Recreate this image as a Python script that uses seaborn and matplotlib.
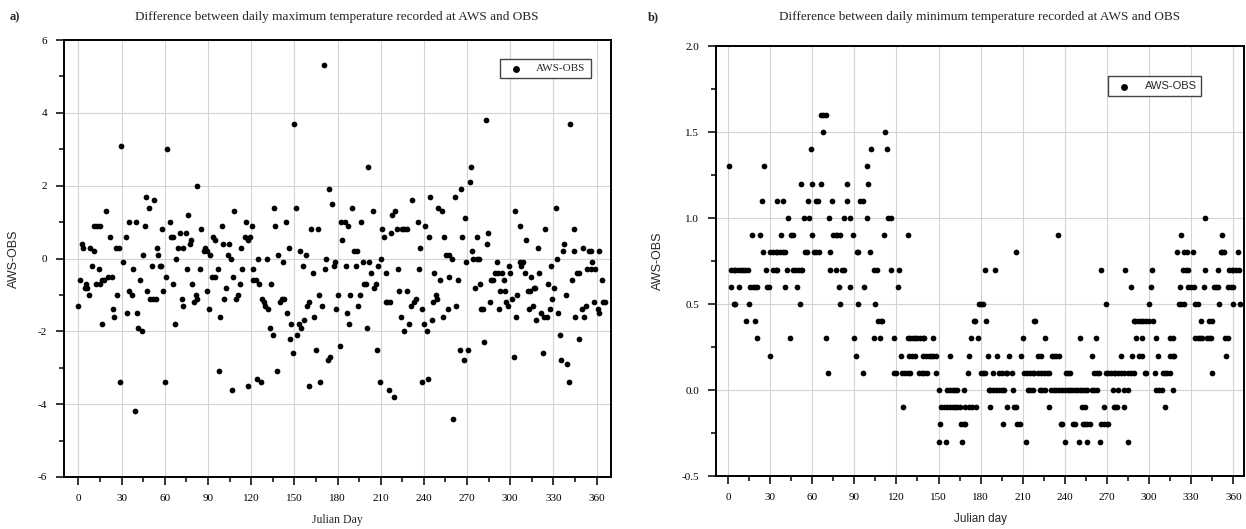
import numpy as np
import pandas as pd
import seaborn as sns
from matplotlib import pyplot as plt
from matplotlib.ticker import MultipleLocator, FormatStrFormatter

# a) daily maximum temperature, AWS minus OBS (read off the figure)
tmax_day = [0, 1, 2.6, 3.5, 4.7, 5.4, 6.1, 7.7, 8.4, 9.4,
            10.8, 10.8, 12.4, 13.1, 14, 14.8, 15.2, 16.4, 16.6, 17.8,
            19, 20.6, 21.8, 23, 23.7, 24.8, 26, 27, 28.3, 28.8,
            29.7, 31, 33, 34, 35, 35.4, 37, 38, 39, 40,
            41, 41.7, 42.9, 44, 45, 46, 46.8, 48, 49, 50,
            51, 52, 52.5, 54, 54.3, 55, 56.4, 57.4, 58, 59,
            60.4, 61, 61.6, 63.5, 64.4, 65.8, 66, 67.4, 68, 69,
            70.5, 71.7, 72.8, 72.8, 74.5, 75.6, 76.3, 77.5, 78.5, 79,
            80, 81.5, 82.2, 82.7, 84.5, 85.5, 87, 87.8, 89.2, 89.2,
            91, 91.6, 92.5, 93.7, 94.8, 94.8, 96.7, 98, 98.6, 99.5,
            100.7, 101.4, 102.6, 103.7, 104.9, 106, 106.6, 107.7, 108.4, 109.6,
            110.8, 112, 113, 113.8, 116, 116.6, 118, 118, 119, 120.5,
            121, 121.6, 123.5, 124.4, 125, 125.8, 127, 127.4, 128.6, 129.8,
            131, 132, 132.8, 134, 134.9, 135.6, 136.7, 138, 139, 139.8,
            141.4, 142, 142.6, 144, 145, 146, 147.2, 148, 149, 150,
            151.4, 151.9, 153, 154, 154.9, 155.8, 157, 158.4, 158.8, 160,
            160.5, 161.9, 163, 164, 165.3, 166.5, 167, 168.1, 169.3, 170.5,
            171, 172.3, 173.3, 174, 175, 176.3, 177.4, 178.6, 179, 180.2,
            181.4, 182.6, 183.3, 184.9, 185.6, 186.3, 187.2, 188, 189, 190.2,
            191.4, 192.6, 193.7, 194.2, 195.3, 196.5, 198, 198.4, 199.5, 200.2,
            201, 202, 203.5, 204.7, 205.3, 206.5, 207.2, 208.4, 209.5, 210.5,
            211, 212.3, 213.5, 214, 214.7, 215.8, 216.5, 217, 218, 219.3,
            219.8, 221.6, 222, 223, 224.3, 225.1, 226, 226.3, 228, 228,
            230, 231, 232, 232.8, 234.4, 235.6, 236.3, 237.4, 238.6, 239,
            240, 241, 242, 242.7, 243.5, 244, 245.4, 246, 247.3, 248.3,
            249, 250, 251.5, 252.4, 253.1, 254.3, 255.5, 256.7, 257.4, 257.8,
            259.5, 260, 261.3, 262.5, 263.7, 265, 265.5, 266.5, 268, 268.8,
            269.5, 270.7, 271.9, 272.6, 273.7, 274.2, 275.4, 276.6, 277.2, 278.4,
            278.9, 280, 281.2, 281.7, 283, 283.6, 284.8, 286, 286.6, 287.8,
            289.4, 291, 291.8, 292.2, 293, 294.1, 295.4, 296.5, 297.2, 298.3,
            298.8, 300, 301, 302.3, 303, 304.2, 305, 306.5, 307, 307.7,
            308.9, 310, 311.2, 312.2, 313, 314, 314.6, 316, 316.4, 317.5,
            318.2, 319, 320.3, 321.5, 323, 323.4, 324, 325.3, 326.4, 327.6,
            328, 329.3, 330.4, 331.6, 332.8, 333.5, 334.6, 335.6, 337, 337.4,
            338.6, 339.3, 340.5, 341.4, 342.6, 344, 344.5, 345.2, 346.3, 347.7,
            348, 350, 350.3, 351.5, 352.7, 353, 355, 356.2, 356.2, 356.6,
            358, 359.2, 360.9, 361.6, 362, 363.7, 364.4, 365.5]
tmax_diff = [-1.3, -0.6, 0.4, 0.3, -0.8, -0.7, -0.8, -1.0, 0.3, -0.2,
             0.9, 0.2, -0.7, 0.9, -0.3, -0.7, 0.9, -0.6, -1.8, -0.6,
             1.3, -0.5, 0.6, -0.5, -1.4, -1.6, 0.3, -1.0, 0.3, -3.4,
             3.1, -0.1, 0.6, -1.5, 1.0, -0.9, -1.0, -0.3, -4.2, 1.0,
             -1.5, -1.9, -0.6, -2.0, 0.1, 0.9, 1.7, -0.9, 1.4, -1.1,
             -0.2, -1.1, 1.6, -1.1, 0.3, 0.1, -0.2, -0.2, 0.8, -0.9,
             -3.4, -0.5, 3.0, 1.0, 0.6, 0.6, -0.7, -1.8, 0.0, 0.3,
             0.7, -1.1, 0.3, -1.3, 0.7, -0.3, 1.2, 0.4, 0.5, -0.7,
             -1.2, -1.0, 2.0, -1.1, -0.3, 0.8, 0.2, 0.3, 0.2, -0.9,
             -1.4, 0.1, -0.5, 0.6, -0.5, 0.5, -0.3, -3.1, -1.6, 0.9,
             0.4, -1.1, -0.8, 0.1, 0.4, 0.0, -3.6, -0.5, 1.3, -1.1,
             -1.0, -0.7, 0.3, -0.3, 0.6, 1.0, 0.5, -3.5, 0.6, 0.9,
             -0.3, -0.6, -0.6, -3.3, 0.0, -0.7, -3.4, -1.1, -1.2, -1.3,
             0.0, -1.4, -1.9, -0.7, -2.1, 1.4, 0.9, -3.1, 0.1, -1.2,
             -1.1, -0.1, -1.1, 1.0, -1.5, 0.3, -2.2, -1.8, -2.6, 3.7,
             1.4, -2.1, -1.8, 0.2, -1.9, -0.2, -1.7, 0.1, -1.3, -1.2,
             -3.5, 0.8, -0.4, -1.6, -2.5, 0.8, -1.0, -3.4, -1.3, 5.3,
             -0.3, 0.0, -2.8, 1.9, -2.7, 1.5, -0.2, -0.1, -1.4, -1.0,
             -2.4, 1.0, 0.5, 1.0, -0.2, -1.5, 0.9, -1.8, -1.0, 1.4,
             0.2, -0.2, 0.2, -1.3, -1.0, 1.0, -0.1, -0.7, -0.7, -1.9,
             2.5, -0.1, -0.4, 1.3, -0.8, -0.7, -2.5, -0.2, -3.4, 0.0,
             0.8, 0.6, -1.2, -0.4, -1.2, -3.6, -1.2, 0.7, 1.2, -3.8,
             1.3, 0.8, -0.3, -0.9, -1.6, 0.8, -2.0, 0.8, 0.8, -0.9,
             -1.8, -1.3, 1.6, -1.2, -1.1, 1.0, -0.3, 0.3, -3.4, -1.4,
             -1.8, 0.9, -2.0, -3.3, 0.6, 1.7, -1.7, -1.2, -0.4, -1.0,
             -1.1, 1.4, -0.6, 1.3, -1.6, 0.6, 0.1, -1.4, -0.5, 0.1,
             0.0, -4.4, 1.7, -1.3, -0.6, -2.5, 1.9, 0.6, -2.8, 1.1,
             -0.1, -2.5, 2.1, 2.5, 0.2, 0.0, -0.8, 0.0, 0.6, 0.0,
             -0.7, -1.4, -1.4, -2.3, 3.8, 0.4, 0.7, -1.2, -0.6, -0.6,
             -0.4, -0.1, -0.4, -1.4, -0.9, -0.4, -0.6, -0.9, -1.2, -1.3,
             -0.2, -0.4, -1.1, -2.7, 1.3, -1.6, -1.0, -0.1, 0.9, -0.2,
             -0.1, -0.4, 0.5, -0.9, -1.4, -0.9, -0.5, -1.3, -0.8, -0.8,
             -1.7, 0.3, -0.4, -1.5, -2.6, -1.6, 0.8, -1.6, -0.7, -1.4,
             -0.2, -1.1, -0.8, 1.4, 0.0, -1.5, -2.1, -2.8, 0.2, 0.4,
             -1.0, -2.9, -3.4, 3.7, -0.6, 0.2, 0.8, -1.6, -0.4, -2.2,
             -0.4, -1.4, 0.3, -1.6, -1.3, -0.3, 0.2, 0.2, -0.3, -0.1,
             -1.2, -0.3, -1.4, 0.2, -1.5, -0.6, -1.2, -1.2]

# b) daily minimum temperature: values come in 0.1 steps, days read per level
tmin_levels = [1.6, 1.5, 1.4, 1.3, 1.2, 1.1, 1.0, 0.9, 0.8, 0.7,
               0.6, 0.5, 0.4, 0.3, 0.2, 0.1, 0.0, -0.1, -0.2, -0.3]
tmin_days = [
    [66, 68, 70],
    [68, 112],
    [59, 102, 113],
    [1, 26, 99],
    [52, 60, 66, 85, 100],
    [24, 35, 39, 57, 63, 64, 74, 85, 94, 96],
    [43, 54, 58, 72, 83, 87, 99, 114, 116, 340],
    [17, 23, 38, 45, 46, 60, 75, 77, 78, 80, 89, 111, 128, 235, 323, 352],
    [25, 30, 32, 34, 35, 37, 39, 41, 55, 56, 61, 63, 65, 73, 92, 93, 101,
     205, 320, 325, 327, 331, 351, 352, 353, 363],
    [2, 4, 5, 7, 9, 11, 12, 14, 27, 32, 34, 35, 42, 46, 48, 50, 52, 53,
     73, 77, 81, 83, 104, 106, 116, 122, 183, 190, 266, 283, 302,
     324, 326, 328, 340, 349, 357, 359, 360, 362, 364],
    [2, 8, 16, 18, 19, 21, 28, 29, 41, 49, 79, 87, 97, 121, 287, 301,
     322, 328, 330, 332, 339, 346, 348, 349, 356, 358, 360],
    [4, 5, 15, 51, 80, 93, 105, 179, 180, 182, 269, 300, 321, 323, 325,
     333, 335, 350, 360, 365],
    [13, 19, 107, 109, 110, 175, 176, 184, 218, 219, 289, 290, 292, 294,
     296, 298, 300, 303, 337, 343, 345],
    [21, 44, 70, 90, 104, 108, 118, 128, 130, 132, 133, 135, 137, 139, 140,
     146, 173, 178, 210, 226, 251, 262, 291, 295, 305, 315, 317, 333, 335,
     336, 338, 341, 343, 344, 354, 356],
    [30, 91, 123, 129, 131, 133, 139, 141, 143, 145, 146, 148, 158, 172,
     185, 192, 200, 209, 221, 223, 231, 232, 234, 236, 259, 280, 288, 293,
     295, 306, 315, 317, 318, 355],
    [71, 96, 118, 120, 124, 126, 128, 130, 136, 138, 140, 142, 148, 171,
     180, 182, 183, 189, 193, 195, 198, 199, 202, 211, 213, 215, 217, 218,
     221, 223, 225, 227, 229, 241, 242, 244, 261, 263, 264, 269, 271, 273,
     275, 276, 278, 280, 282, 285, 287, 289, 297, 298, 304, 310, 311, 313,
     315, 345],
    [150, 156, 158, 160, 162, 163, 168, 186, 187, 189, 191, 193, 195, 197,
     203, 214, 215, 217, 222, 224, 226, 230, 232, 234, 236, 238, 240, 242,
     244, 245, 247, 249, 251, 252, 254, 256, 259, 261, 263, 274, 278, 282,
     285, 305, 307, 309, 317],
    [125, 152, 154, 156, 158, 160, 162, 163, 165, 169, 172, 174, 177, 187,
     199, 204, 205, 229, 252, 254, 268, 275, 276, 277, 282, 311],
    [151, 166, 168, 169, 196, 206, 208, 237, 238, 246, 247, 253, 254, 256,
     258, 266, 268, 270, 271],
    [150, 155, 167, 212, 240, 250, 256, 265, 285],
]

max_df = pd.DataFrame({'day': tmax_day, 'diff': tmax_diff})
min_df = pd.DataFrame([(d, lev) for lev, days in zip(tmin_levels, tmin_days) for d in days],
                      columns=['day', 'diff'])

sns.set_style('ticks')
serif = ['Liberation Serif', 'DejaVu Serif']
sans = ['Liberation Sans', 'DejaVu Sans']
plt.rcParams['font.family'] = serif
plt.rcParams['axes.unicode_minus'] = False

W, H = 1246, 529
fig = plt.figure(figsize=(W / 100, H / 100), dpi=100)
ax1 = fig.add_axes([64 / W, 1 - 477 / H, (611 - 64) / W, (477 - 40) / H])
ax2 = fig.add_axes([716 / W, 1 - 476 / H, (1244 - 716) / W, (476 - 46) / H])


def style_axis(ax):
    ax.grid(True, which='major', color='#d4d4d4', linewidth=0.8)
    ax.set_axisbelow(True)
    for s in ax.spines.values():
        s.set_linewidth(1.4)
        s.set_color('black')
    ax.xaxis.set_major_locator(MultipleLocator(30))
    ax.xaxis.set_minor_locator(MultipleLocator(15))
    ax.tick_params(which='both', direction='out', top=False, right=False,
                   width=1.1, labelsize=8, colors='black')
    ax.tick_params(which='major', length=6, pad=6)
    ax.tick_params(which='minor', length=3.5)


sns.scatterplot(data=max_df, x='day', y='diff', ax=ax1, color='black',
                s=17, linewidth=0, label='AWS-OBS')
ax1.set_xlim(-10, 370)
ax1.set_ylim(-6, 6)
ax1.yaxis.set_major_locator(MultipleLocator(2))
ax1.yaxis.set_minor_locator(MultipleLocator(1))
style_axis(ax1)
ax1.set_xlabel('Julian Day', fontsize=8.5, labelpad=8)
ax1.set_ylabel('AWS-OBS', fontsize=9, family=sans, labelpad=13)
leg1 = ax1.legend(loc='upper right', bbox_to_anchor=(0.973, 0.970),
                  fancybox=False, edgecolor='#444444', framealpha=1,
                  prop={'family': serif, 'size': 8}, handletextpad=0.8,
                  borderpad=0.45, markerscale=1.2)
leg1.get_frame().set_linewidth(1.0)

sns.scatterplot(data=min_df, x='day', y='diff', ax=ax2, color='black',
                s=17, linewidth=0, label='AWS-OBS')
ax2.set_xlim(-8.5, 367.6)
ax2.set_ylim(-0.5, 2.0)
ax2.yaxis.set_major_locator(MultipleLocator(0.5))
ax2.yaxis.set_minor_locator(MultipleLocator(0.25))
ax2.yaxis.set_major_formatter(FormatStrFormatter('%.1f'))
style_axis(ax2)
ax2.set_xlabel('Julian day', fontsize=8.5, family=sans, labelpad=8)
ax2.set_ylabel('AWS-OBS', fontsize=9, family=sans, labelpad=13)
leg2 = ax2.legend(loc='upper right', bbox_to_anchor=(0.930, 0.942),
                  fancybox=False, edgecolor='#444444', framealpha=1,
                  prop={'family': sans, 'size': 8}, handletextpad=0.8,
                  borderpad=0.45, markerscale=1.2)
leg2.get_frame().set_linewidth(1.0)

fig.text(337 / W, 1 - 17 / H,
         'Difference between daily maximum temperature recorded at AWS and OBS',
         ha='center', va='center', fontsize=9.5)
fig.text(980 / W, 1 - 17 / H,
         'Difference between daily minimum temperature recorded at AWS and OBS',
         ha='center', va='center', fontsize=9.5)
fig.text(10 / W, 1 - 17 / H, 'a)', ha='left', va='center', fontsize=9, fontweight='bold')
fig.text(648 / W, 1 - 17 / H, 'b)', ha='left', va='center', fontsize=9, fontweight='bold')

fig.savefig('out.png', dpi=100)
